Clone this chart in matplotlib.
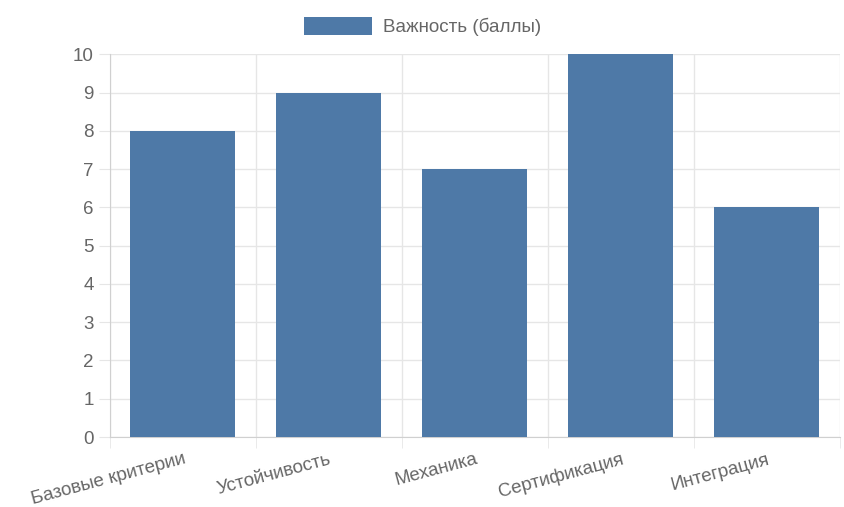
import matplotlib
matplotlib.use("Agg")
import matplotlib.pyplot as plt
from matplotlib.patches import Patch

categories = ["Базовые критерии", "Устойчивость", "Механика", "Сертификация", "Интеграция"]
values = [8, 9, 7, 10, 6]
series_name = "Важность (баллы)"

plt.rcParams["font.family"] = ["Liberation Sans", "DejaVu Sans"]
color = "#4e79a7"
grid = "#e6e6e6"
text = "#666666"

fig = plt.figure(figsize=(8.45, 5.07), dpi=100)
ax = fig.add_axes([0.130, 0.138, 0.864, 0.755])

x = list(range(len(categories)))
ax.bar(x, values, width=0.72, color=color, zorder=3)

ax.set_xlim(-0.5, len(categories) - 0.5)
ax.set_ylim(0, 10)
ax.set_yticks(range(0, 11))
ax.set_xticks(x)
ax.set_xticklabels(categories, rotation=15, ha="right", rotation_mode="anchor")
ax.set_xticks([i - 0.5 for i in range(len(categories) + 1)], minor=True)
ax.tick_params(axis="x", which="major", length=0, pad=10, labelsize=13.5, colors=text)
ax.tick_params(axis="x", which="minor", length=8, color=grid)
ax.tick_params(axis="y", length=8, color=grid, labelsize=13.5, colors=text)

ax.grid(True, which="minor", axis="x", color=grid, linewidth=1, zorder=0)
ax.grid(True, which="major", axis="y", color=grid, linewidth=1, zorder=0)
for s in ["top", "right"]:
    ax.spines[s].set_visible(False)
ax.spines["left"].set_color("#d0d0d0")
ax.spines["bottom"].set_color("#d0d0d0")

fig.legend(handles=[Patch(facecolor=color, label=series_name)], loc="upper center",
           bbox_to_anchor=(0.5, 1.0), frameon=False, fontsize=13.5,
           handlelength=3.6, handleheight=1.1, handletextpad=0.6, labelcolor=text)

fig.savefig("out.png", dpi=100)
